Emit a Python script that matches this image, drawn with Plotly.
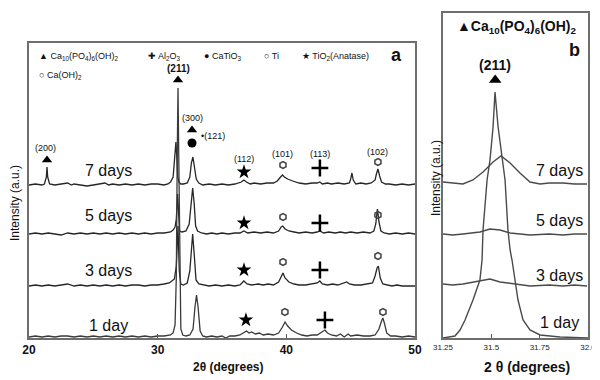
import plotly.graph_objects as go

# ---------------- Panel a data (2theta in degrees, intensity in a.u. above own baseline) -------------
tt_7d = [20.0, 20.5, 21.0, 21.2, 21.35, 21.4, 21.45, 21.6, 22.0, 22.5, 23.0, 23.3, 23.5, 24.0, 24.5, 25.0,
         25.5, 25.9, 26.2, 26.5, 27.0, 27.5, 28.0, 28.5, 29.0, 29.5, 30.0, 30.5, 30.8, 31.0, 31.2, 31.32,
         31.42, 31.5, 31.56, 31.65, 31.8, 32.0, 32.3, 32.5, 32.62, 32.74, 32.85, 33.0, 33.2, 33.5, 34.0,
         34.5, 35.0, 35.5, 36.0, 36.3, 36.5, 36.7, 36.9, 37.2, 37.5, 38.0, 38.5, 39.0, 39.3, 39.55, 39.7,
         39.85, 40.1, 40.5, 41.0, 41.5, 42.0, 42.4, 42.6, 42.8, 43.2, 43.5, 44.0, 44.5, 44.9, 45.0, 45.1,
         45.2, 45.4, 45.8, 46.2, 46.6, 46.9, 47.0, 47.12, 47.25, 47.4, 47.7, 48.0, 48.5, 49.0, 49.5, 50.0]
int_7d = [0, 1, 0, 1, 8, 18, 8, 1, 0, 1, 2, 0, 1, 0, -1, 0,
          1, 2, 0, 1, 0, 1, 0, 1, 0, 1, 1, 0, 1, 3, 8, 25,
          43, 25, 8, 3, 1, 1, 2, 8, 22, 28, 20, 6, 2, 0, 1,
          0, 1, 0, 1, 2, 3, 5, 3, 1, 2, 1, 2, 2, 4, 8, 10,
          8, 6, 4, 2, 1, 2, 2, 3, 1, 2, 1, 2, 1, 2, 6, 12,
          5, 1, 2, 1, 2, 5, 11, 16, 9, 3, 1, 1, 0, 1, 0, 1]

tt_5d = [20.0, 20.5, 21.0, 21.5, 22.0, 22.5, 23.0, 23.5, 24.0, 24.5, 25.0, 25.5, 26.0, 26.5, 27.0, 27.5,
         28.0, 28.5, 29.0, 29.5, 30.0, 30.5, 31.0, 31.2, 31.35, 31.45, 31.55, 31.62, 31.7, 31.9, 32.2,
         32.45, 32.6, 32.72, 32.84, 32.95, 33.1, 33.4, 33.8, 34.2, 34.6, 35.0, 35.5, 36.0, 36.4, 36.7,
         37.0, 37.5, 38.0, 38.5, 39.0, 39.4, 39.6, 39.72, 39.9, 40.2, 40.6, 41.0, 41.5, 42.0, 42.4, 42.6,
         42.9, 43.3, 43.8, 44.2, 44.6, 45.0, 45.5, 46.0, 46.5, 46.8, 46.95, 47.08, 47.2, 47.35, 47.6,
         48.0, 48.5, 49.0, 49.5, 50.0]
int_5d = [0, 1, 0, 1, 0, -1, 1, 0, 1, 0, 1, 0, 1, 0, 1, 0,
          1, 0, 1, 0, 1, 1, 2, 4, 7, 15, 40, 15, 3, 2, 3,
          10, 35, 46, 30, 8, 3, 1, 0, 1, 0, 1, 0, 1, 1, 3,
          1, 2, 1, 2, 1, 3, 7, 8, 5, 3, 2, 1, 2, 1, 2, 3,
          1, 2, 1, 2, 1, 2, 1, 2, 1, 3, 10, 25, 12, 3, 1,
          0, 1, 0, 1, 0]

tt_3d = [20.0, 20.5, 21.0, 21.5, 22.0, 22.5, 23.0, 23.5, 24.0, 24.5, 25.0, 25.5, 26.0, 26.5, 27.0, 27.5,
         28.0, 28.5, 29.0, 29.5, 30.0, 30.5, 30.9, 31.1, 31.3, 31.45, 31.58, 31.68, 31.8, 32.0, 32.3,
         32.5, 32.62, 32.72, 32.85, 32.98, 33.2, 33.5, 34.0, 34.5, 35.0, 35.5, 36.0, 36.4, 36.7, 36.95,
         37.3, 37.8, 38.2, 38.6, 39.0, 39.4, 39.6, 39.74, 39.9, 40.2, 40.6, 41.0, 41.5, 42.0, 42.4, 42.6,
         42.8, 43.2, 43.6, 44.0, 44.4, 44.7, 44.9, 45.3, 45.8, 46.3, 46.7, 46.9, 47.05, 47.15, 47.3, 47.5,
         47.8, 48.2, 48.6, 49.0, 49.5, 50.0]
int_3d = [0, 1, 0, 1, 0, 1, 2, 0, 1, 0, 1, 0, 1, 0, 1, 0,
          1, 1, 0, 1, 1, 2, 3, 5, 7, 20, 60, 15, 2, 1, 3,
          15, 40, 52, 30, 6, 2, 1, 0, 1, 0, 1, 0, 1, 5, 2,
          1, 2, 1, 2, 1, 4, 10, 13, 8, 4, 2, 1, 1, 2, 3, 5,
          2, 1, 2, 1, 3, 4, 2, 1, 1, 2, 3, 10, 18, 20, 8, 2,
          1, 0, 1, 0, 0, 0]

tt_1d = [20.0, 20.5, 21.0, 21.5, 22.0, 22.5, 23.0, 23.5, 24.0, 24.5, 25.0, 25.5, 26.0, 26.5, 27.0, 27.5,
         28.0, 28.5, 29.0, 29.5, 30.0, 30.5, 31.0, 31.2, 31.35, 31.45, 31.52, 31.58, 31.64, 31.72, 31.8,
         31.95, 32.2, 32.5, 32.75, 32.9, 33.02, 33.14, 33.3, 33.5, 33.8, 34.2, 34.6, 35.0, 35.3, 35.6,
         36.0, 36.4, 36.7, 36.9, 37.1, 37.3, 37.6, 37.9, 38.2, 38.6, 39.0, 39.4, 39.7, 39.9, 40.1, 40.4,
         40.8, 41.2, 41.6, 42.0, 42.4, 42.8, 43.0, 43.2, 43.5, 43.9, 44.2, 44.5, 44.8, 45.0, 45.5, 46.0,
         46.5, 46.9, 47.2, 47.4, 47.5, 47.62, 47.8, 48.1, 48.5, 49.0, 49.5, 50.0]
int_1d = [0, 1, 0, 1, 0, 1, 1, 0, 1, 0, 1, 0, 1, 0, 1, 0,
          1, 0, 1, 0, 1, 1, 2, 4, 12, 60, 180, 249, 180, 50, 8,
          2, 1, 2, 8, 30, 42, 30, 6, 1, 0, 1, 0, 1, -1, 1,
          1, 2, 4, 6, 4, 5, 3, 4, 2, 3, 2, 4, 10, 15, 11, 7,
          4, 2, 1, 2, 2, 5, 7, 4, 2, 1, 3, 0, 3, 1, 2, 1,
          1, 2, 8, 16, 19, 14, 4, 1, 1, 0, 1, 0]

days = ["7 days", "5 days", "3 days", "1 day"]
offsets_a = [153, 104, 52, 1]

# ---------------- Panel b data (zoom on the (211) reflection) ----------------
tt_b_1d = [31.25, 31.297, 31.312, 31.338, 31.364, 31.405, 31.441, 31.452, 31.457, 31.478, 31.493, 31.509,
           31.519, 31.535, 31.555, 31.571, 31.586, 31.597, 31.607, 31.622, 31.638, 31.664, 31.70, 31.752,
           31.855, 32.0]
int_b_1d = [0, 1, 2, 8, 18, 38, 58, 78, 108, 158, 178, 211,
            246, 211, 178, 158, 108, 88, 78, 58, 38, 18, 8, 3,
            1, 0]
tt_b_3d = [31.25, 31.30, 31.353, 31.405, 31.45, 31.493, 31.545, 31.612, 31.70, 31.80, 31.871, 31.93, 31.995]
int_b_3d = [54, 53, 54, 56, 57, 59, 56, 54, 52, 53, 52, 53, 52]
tt_b_5d = [31.25, 31.30, 31.353, 31.441, 31.493, 31.545, 31.597, 31.70, 31.80, 31.871, 31.93, 31.995]
int_b_5d = [104, 103, 104, 106, 109, 108, 105, 103, 104, 103, 104, 104]
tt_b_7d = [31.25, 31.30, 31.353, 31.405, 31.457, 31.509, 31.550, 31.597, 31.648, 31.700, 31.752, 31.80,
           31.871, 31.93, 31.995]
int_b_7d = [156, 155, 154, 158, 166, 176, 182, 175, 165, 156, 154, 155, 155, 154, 154]

ticks_a = [20, 30, 40, 50]
ticks_b = [31.25, 31.5, 31.75, 32.0]
ticklabels_b = ["31.25", "31.5", "31.75", "32.0"]

# page geometry: the figure sits 8 px in from the page corner
W, H, OFF = 592, 372, 8
def px(X):
    return (X - OFF) / W
def py(Y):
    return (380 - Y) / H

fig = go.Figure()

line_col = "#262626"
for tt, inten, off, name in zip([tt_7d, tt_5d, tt_3d, tt_1d], [int_7d, int_5d, int_3d, int_1d], offsets_a, days):
    fig.add_trace(go.Scatter(x=tt, y=[v + off for v in inten], mode="lines", name=name,
                             line=dict(color=line_col if name != "1 day" else "#3a3a3a", width=1.3),
                             xaxis="x", yaxis="y", showlegend=False))

for tt, inten, name in zip([tt_b_7d, tt_b_5d, tt_b_3d, tt_b_1d], [int_b_7d, int_b_5d, int_b_3d, int_b_1d], days):
    fig.add_trace(go.Scatter(x=tt, y=inten, mode="lines", name=name,
                             line=dict(color="#4a4a4a", width=1.4),
                             xaxis="x2", yaxis="y2", showlegend=False))

# marker positions (2theta, intensity on stacked scale)
tri_x = [31.58, 32.67, 21.4]
tri_y = [258, 208, 178]
star_x = [36.71, 36.71, 36.71, 36.86]
star_y = [166, 115, 68, 18]
dia_x = [39.74, 39.74, 39.74, 39.89, 47.12, 47.12, 47.12, 47.51]
dia_y = [173, 121, 76, 26, 176, 123, 82, 26]
plus_x = [42.61, 42.61, 42.61, 43.0]
plus_y = [170, 115, 68, 18]
circ_x = [32.67]
circ_y = [195]

fig.add_trace(go.Scatter(x=tri_x, y=tri_y, mode="markers", xaxis="x", yaxis="y", showlegend=False,
                         marker=dict(symbol="triangle-up", size=9, color="black")))
fig.add_trace(go.Scatter(x=star_x, y=star_y, mode="markers", xaxis="x", yaxis="y", showlegend=False,
                         marker=dict(symbol="star", size=11, color="black")))
fig.add_trace(go.Scatter(x=dia_x, y=dia_y, mode="markers", xaxis="x", yaxis="y", showlegend=False,
                         marker=dict(symbol="hexagon-open", size=7, color="#444", line=dict(width=1.5))))
fig.add_trace(go.Scatter(x=plus_x, y=plus_y, mode="markers", xaxis="x", yaxis="y", showlegend=False,
                         marker=dict(symbol="cross-thin-open", size=12, color="black", line=dict(width=2.5, color="black"))))
fig.add_trace(go.Scatter(x=circ_x, y=circ_y, mode="markers", xaxis="x", yaxis="y", showlegend=False,
                         marker=dict(symbol="circle", size=9, color="black")))
fig.add_trace(go.Scatter(x=[31.52], y=[258], mode="markers", xaxis="x2", yaxis="y2", showlegend=False,
                         marker=dict(symbol="triangle-up", size=11, color="black")))

ann = []
FONT = "Arial, Liberation Sans, sans-serif"

def A(text, x, y, size, xref="x", yref="y", xanchor="center", bold=False, angle=0, color="#111"):
    ann.append(dict(text=text, x=x, y=y, xref=xref, yref=yref, xanchor=xanchor, yanchor="middle",
                    showarrow=False, textangle=angle,
                    font=dict(family=FONT, size=size, color=color, weight="bold" if bold else "normal")))

# peak labels panel a
A("(211)", 31.58, 270, 10, bold=True)
A("(300)", 32.67, 220, 9)
A("•(121)", 33.2, 202, 9, xanchor="left")
A("(200)", 21.3, 190, 9)
A("(112)", 36.71, 179, 9)
A("(101)", 39.74, 184, 9)
A("(113)", 42.61, 184, 9)
A("(102)", 47.12, 186, 9)

# day labels panel a
for lbl, yy in zip(days, [168, 123, 68, 13]):
    A(lbl, 26.2, yy, 16)

# legend-like text panel a
A("▲ Ca<sub>10</sub>(PO<sub>4</sub>)<sub>6</sub>(OH)<sub>2</sub>", 20.6, 282, 9, xanchor="left")
A("✚ Al<sub>2</sub>O<sub>3</sub>", 29.1, 282, 9, xanchor="left")
A("● CaTiO<sub>3</sub>", 33.45, 282, 9, xanchor="left")
A("○ Ti", 38.1, 282, 9, xanchor="left")
A("★ TiO<sub>2</sub>(Anatase)", 41.05, 282, 9, xanchor="left")
A("○ Ca(OH)<sub>2</sub>", 20.6, 263, 9, xanchor="left")
A("a", 48.6, 283, 18, bold=True)

# panel b labels
A("▲Ca<sub>10</sub>(PO<sub>4</sub>)<sub>6</sub>(OH)<sub>2</sub>", 31.63, 311, 14, xref="x2", yref="y2", bold=True)
A("b", 31.93, 288, 18, xref="x2", yref="y2", bold=True)
A("(211)", 31.52, 273, 14, xref="x2", yref="y2", bold=True)
for lbl, yy in zip(days, [168, 118, 63, 16]):
    A(lbl, 31.85, yy, 16, xref="x2", yref="y2")

# axis titles
A("Intensity (a.u.)", px(15), py(203), 12, xref="paper", yref="paper", angle=-90)
A("Intensity (a.u.)", px(436), py(178), 12, xref="paper", yref="paper", angle=-90)
A("2θ (degrees)", px(228), py(367), 12, xref="paper", yref="paper", bold=True)
A("2 θ (degrees)", px(527), py(367), 14, xref="paper", yref="paper", bold=True)

axis_common = dict(showline=True, mirror=True, linecolor="#6e6e6e", linewidth=2, showgrid=False,
                   zeroline=False, automargin=False)

fig.update_layout(
    width=W, height=H, autosize=False,
    margin=dict(l=0, r=0, t=0, b=0, pad=0, autoexpand=False),
    paper_bgcolor="white", plot_bgcolor="white",
    annotations=ann,
    xaxis=dict(domain=[px(29), px(415)], range=[20, 50], tickvals=ticks_a, ticks="inside", ticklen=4,
               tickcolor="#555", tickfont=dict(family=FONT, size=12, color="#111", weight="bold"),
               ticklabeloverflow="allow", anchor="y", **axis_common),
    yaxis=dict(domain=[py(338), py(43)], range=[0, 295], showticklabels=False, ticks="",
               anchor="x", **axis_common),
    xaxis2=dict(domain=[px(443), px(588)], range=[31.25, 32.0], tickvals=ticks_b, ticktext=ticklabels_b,
                ticks="inside", ticklen=4, tickcolor="#555", ticklabeloverflow="allow",
                tickfont=dict(family=FONT, size=8, color="#222"), anchor="y2", **axis_common),
    yaxis2=dict(domain=[py(338), py(13)], range=[0, 325], showticklabels=False, ticks="",
                anchor="x2", **axis_common),
)

fig.write_html("out.html")
